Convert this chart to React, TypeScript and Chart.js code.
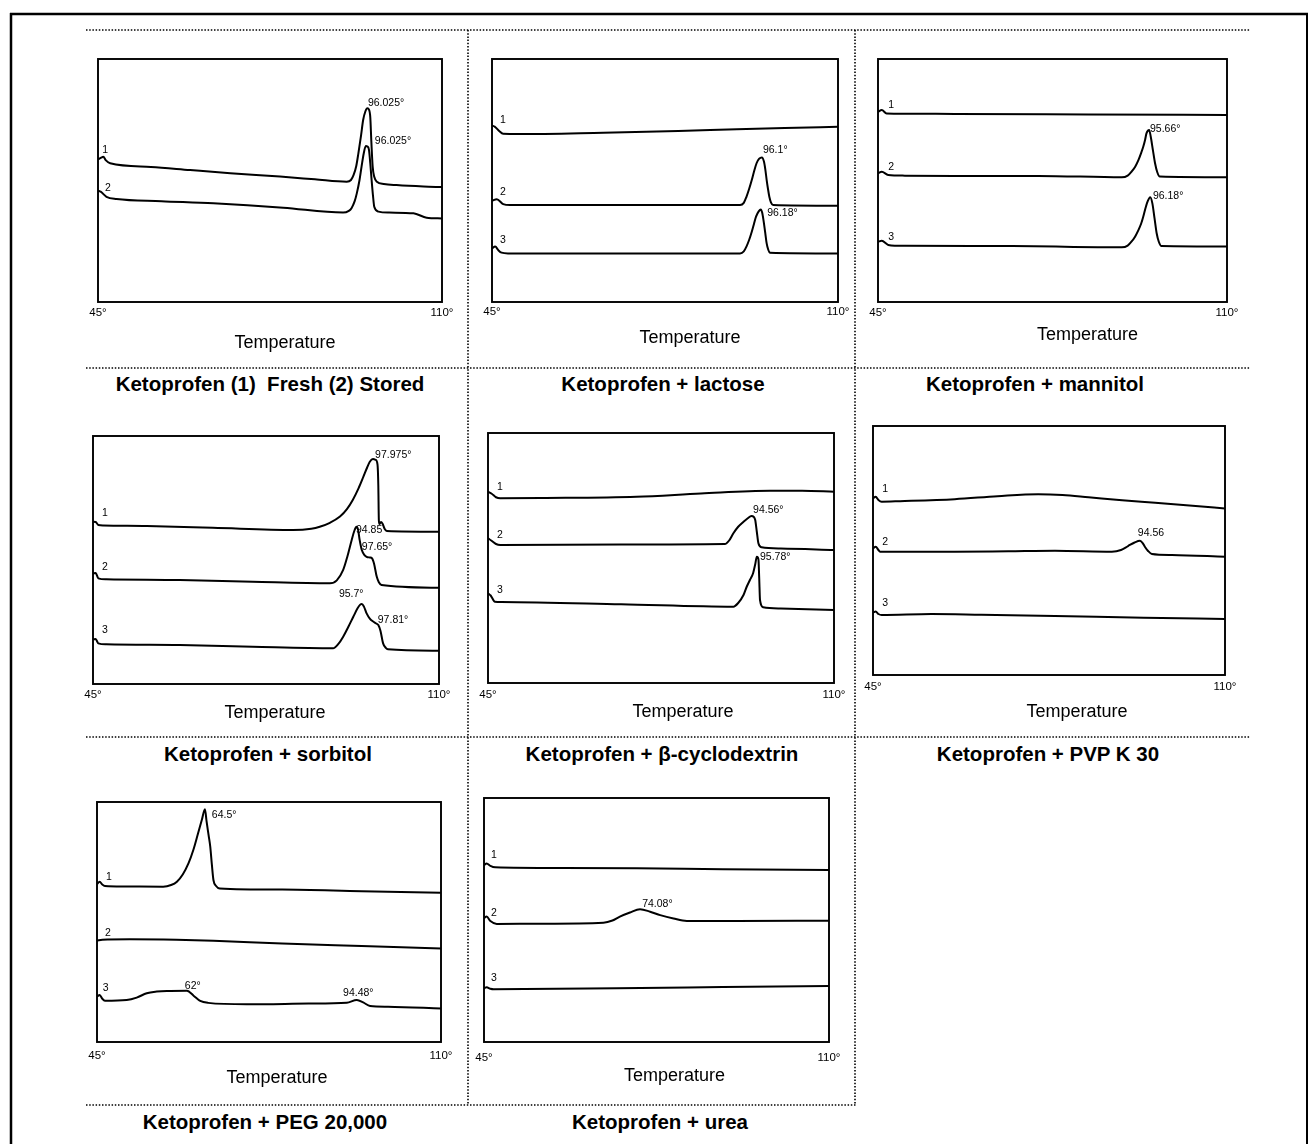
import React, { useEffect, useRef } from 'react';
import { Chart, registerables } from 'chart.js';

Chart.register(...registerables);

type Pt = [number, number];
type Ann = { text: string; t: number; v: number };

// ---------- axis ----------
const tempMin = 45;
const tempMax = 110;
const tickTemps = [45, 110];
const axisTitle = 'Temperature';
const curveNames = ['1', '2', '3'];

// ---------- Ketoprofen (1) fresh, (2) stored ----------
const freshCurve: Pt[] = [[45,58.7],[45.6,59.4],[46,59.8],[46.5,58.3],[47.3,57.1],[55,55.6],[62.4,54.3],[70,53],[79.4,51.6],[86,50.5],[92,49.5],[92.8,50.2],[93.3,52.3],[93.8,56],[94.2,61.2],[94.7,68.5],[95.1,74.9],[95.5,78.3],[95.9,79.7],[96.2,79.2],[96.45,76],[96.65,66],[96.9,55.7],[97.2,51.5],[97.7,49.5],[99,48.6],[101.4,48.1],[106.5,47.5],[110,47.3]];
const storedCurve: Pt[] = [[45,45.8],[45.5,45.4],[46.6,43.3],[48.5,42.4],[57,41.5],[66.8,40.6],[80,38.8],[91.3,36.8],[92.4,37.5],[92.9,38.6],[93.5,41.5],[93.9,44.7],[94.4,50],[94.8,55.7],[95.2,61],[95.6,64.2],[95.9,64],[96.2,62.6],[96.45,57],[96.7,50.2],[96.95,44],[97.2,39.2],[98,37.2],[100,36.8],[104.6,36.5],[107.1,34.7],[110,34.4]];
const freshLabels: Ann[] = [{text:'1',t:45.8,v:62.6},{text:'2',t:46.3,v:46.9}];
const freshPeaks: Ann[] = [{text:'96.025°',t:96.0,v:81.9},{text:'96.025°',t:97.3,v:66.3}];

// ---------- lactose ----------
const lactose1: Pt[] = [[45,72.6],[45.5,72.2],[46.3,70.5],[47.1,69.2],[50,69.1],[65.9,69.7],[80,70.4],[91,71.1],[100,71.6],[110,72.1]];
const lactose2: Pt[] = [[45,41.7],[45.9,42.3],[47.1,40.3],[48.4,39.9],[70,39.9],[91.6,39.9],[92.3,40.8],[92.8,43.3],[93.3,46.5],[93.8,50.2],[94.2,53.5],[94.7,57.1],[95.2,59],[95.7,59.5],[96.1,57.7],[96.35,54.5],[96.6,50.2],[96.85,46.5],[97.1,43.3],[97.4,41],[97.8,39.9],[110,39.6]];
const lactose3: Pt[] = [[45,22.1],[45.6,22.8],[46.2,21.3],[46.8,20.3],[48,20],[70,20],[91.6,20],[92.3,20.8],[92.8,22.8],[93.3,25.5],[93.8,28.9],[94.2,32],[94.6,35.1],[95.1,37.3],[95.5,38.1],[95.75,36.8],[96.0,33.7],[96.3,29],[96.6,24.1],[96.9,21.5],[97.2,20.3],[110,20]];
const lactoseLabels: Ann[] = [{text:'1',t:46.5,v:74.9},{text:'2',t:46.5,v:45.3},{text:'3',t:46.5,v:25.5}];
const lactosePeaks: Ann[] = [{text:'96.1°',t:95.9,v:62.6},{text:'96.18°',t:96.7,v:36.6}];

// ---------- mannitol ----------
const mannitol1: Pt[] = [[45,78.3],[45.7,79],[46.6,77.6],[50,77.5],[59.3,77.4],[84.2,77.2],[110,77]];
const mannitol2: Pt[] = [[45,53],[45.7,53.6],[46.9,52.3],[50,52],[59.3,51.9],[74.9,51.9],[90.4,51.3],[91.5,52],[92.2,53.6],[92.9,55.7],[93.5,58.4],[94.0,61.3],[94.4,63.9],[94.75,66.8],[95.0,69.4],[95.5,70.8],[95.8,68],[96.2,62.5],[96.6,57.1],[97.0,53.5],[97.5,51.6],[110,51.3]];
const mannitol3: Pt[] = [[45,24.8],[45.7,25.2],[46.9,23.5],[50,23.1],[70,23],[90.4,22.5],[91.5,23.2],[92.2,24.8],[92.9,27],[93.5,29.6],[94.0,32.2],[94.4,35.1],[94.8,38.5],[95.2,41.3],[95.7,43.1],[96.1,40.6],[96.5,34.5],[96.9,28.3],[97.3,24.8],[97.8,23],[110,22.8]];
const mannitolLabels: Ann[] = [{text:'1',t:46.9,v:81.1},{text:'2',t:46.9,v:55.6},{text:'3',t:46.9,v:26.7}];
const mannitolPeaks: Ann[] = [{text:'95.66°',t:95.66,v:71.2},{text:'96.18°',t:96.2,v:43.6}];

// ---------- sorbitol ----------
const sorbitol1: Pt[] = [[45,65.4],[45.5,65.3],[46,64.1],[47,63.9],[55.1,63.7],[67.5,63.0],[82.6,62.1],[86,62.6],[87.6,63.4],[89.5,65],[91.4,67.5],[92.7,70.5],[93.8,74.2],[94.9,79],[95.8,83.6],[96.5,87.3],[97.0,89.6],[97.6,90.7],[98.1,90.4],[98.45,88.5],[98.6,80],[98.7,66],[98.8,64.5],[99.1,65.3],[99.4,64.6],[99.8,62.5],[100.2,61.7],[110,61.4]];
const sorbitol2: Pt[] = [[45,44.6],[45.5,44.8],[46,42.6],[47.5,42.2],[61.3,41.9],[75,41.2],[89.5,40.6],[90.8,41.8],[92.0,46.0],[92.8,51.5],[93.6,58.1],[94.1,61.8],[94.5,63.4],[94.8,62.2],[95.1,58],[95.5,54.0],[96.0,52.0],[96.4,51.3],[97.0,51.0],[97.4,50.7],[97.8,48.5],[98.3,43.3],[98.7,41],[99.2,39.9],[110,38.8]];
const sorbitol3: Pt[] = [[45,18.0],[45.5,18.1],[46,16.4],[47.5,16.0],[61.3,15.7],[75,15.0],[90.1,14.4],[91.1,16.2],[92.0,19.1],[93.0,23.2],[93.9,27.1],[94.7,30.5],[95.2,32.0],[95.5,32.3],[95.9,31.2],[96.4,28.5],[97.0,26.4],[97.7,25.1],[98.2,24.4],[98.6,23.8],[99.0,21.5],[99.5,16.4],[100.0,14.6],[100.4,14.0],[110,13.4]];
const sorbitolLabels: Ann[] = [{text:'1',t:46.7,v:69.0},{text:'2',t:46.7,v:47.2},{text:'3',t:46.7,v:21.8}];
const sorbitolPeaks: Ann[] = [{text:'97.975°',t:98.0,v:92.3},{text:'94.85',t:94.4,v:62.1},{text:'97.65°',t:95.5,v:55.2},{text:'95.7°',t:91.2,v:36.3},{text:'97.81°',t:98.5,v:25.8}];

// ---------- beta-cyclodextrin ----------
const cyclo1: Pt[] = [[45,76.5],[45.7,75.7],[46.5,74.3],[47.3,73.9],[55,74],[72.9,74.5],[85,75.8],[98,76.9],[104,76.9],[110,76.5]];
const cyclo2: Pt[] = [[45,57.9],[45.6,57.0],[46.5,55.6],[47.3,55.2],[70,55.4],[89.5,55.6],[90.3,57],[91.1,59.9],[92.0,62.5],[93.0,64.5],[93.8,65.9],[94.5,66.8],[94.9,66.5],[95.2,65.2],[95.5,60.5],[95.8,55.9],[96.4,54.3],[100,53.8],[110,53.2]];
const cyclo3: Pt[] = [[45,35.9],[45.5,35.0],[46.3,32.5],[47.5,32.4],[70,31.5],[91.1,30.5],[92.0,32.0],[93.0,35.2],[93.6,38.5],[94.2,41.2],[94.8,43.9],[95.2,47.5],[95.5,50.5],[95.8,49.5],[95.95,42],[96.1,33.2],[96.7,30.3],[100,29.8],[110,29.2]];
const cycloLabels: Ann[] = [{text:'1',t:46.7,v:78.4},{text:'2',t:46.7,v:59.2},{text:'3',t:46.7,v:37.2}];
const cycloPeaks: Ann[] = [{text:'94.56°',t:94.8,v:69.2},{text:'95.78°',t:96.1,v:50.4}];

// ---------- PVP K 30 ----------
const pvp1: Pt[] = [[45,71.0],[45.5,71.6],[46.0,70.3],[46.6,69.6],[50,69.8],[60.1,70.6],[68,71.8],[75.5,72.6],[80,72.3],[84.8,71.4],[91,70.2],[97.1,69.2],[104,68],[110,66.9]];
const pvp2: Pt[] = [[45,50.8],[45.5,51.5],[46.0,50.2],[46.3,49.5],[60.1,49.5],[70,49.7],[78.6,49.9],[89.1,49.5],[90.8,50.2],[92.1,51.8],[93.3,53.2],[94.3,53.9],[94.8,53.0],[95.2,51.5],[95.8,49.8],[96.5,48.6],[100.2,48.2],[110,47.5]];
const pvp3: Pt[] = [[45,25.0],[45.5,25.5],[46.0,24.5],[46.6,24.1],[55.8,24.5],[65,24.2],[78.6,23.7],[95,23.0],[110,22.5]];
const pvpLabels: Ann[] = [{text:'1',t:46.7,v:74.7},{text:'2',t:46.7,v:53.4},{text:'3',t:46.7,v:28.9}];
const pvpPeaks: Ann[] = [{text:'94.56',t:93.9,v:57.0}];

// ---------- PEG 20,000 ----------
const peg1: Pt[] = [[45,65.8],[45.5,66.8],[46.0,65.6],[46.5,65.0],[50,64.8],[57.5,64.7],[59,65.4],[60.1,66.8],[61.2,69.8],[62.3,74.5],[63.2,80],[64.1,87.0],[64.8,92.5],[65.4,97.0],[65.7,92],[66.1,86],[66.4,81.4],[66.7,74],[67.0,67.5],[67.5,65],[68.2,64.0],[80,63.5],[95,62.8],[110,62.2]];
const peg2: Pt[] = [[45,42.2],[46,42.6],[51.2,42.8],[60,42.6],[67,42.2],[80,41.0],[95,40.0],[110,39.0]];
const peg3: Pt[] = [[45,18.9],[45.5,19.6],[46.0,18.0],[46.5,17.2],[50.6,17.5],[52.5,18.5],[54.4,20.3],[56.3,21.0],[58.2,21.3],[62.0,21.4],[63.3,19.2],[64.5,17.1],[66,16.3],[73.3,15.7],[85,16.0],[92.2,16.4],[94.1,17.5],[95.3,16.5],[96.6,15.0],[100,14.7],[110,14.0]];
const pegLabels: Ann[] = [{text:'1',t:46.7,v:68.75},{text:'2',t:46.5,v:45.4},{text:'3',t:46.1,v:22.5}];
const pegPeaks: Ann[] = [{text:'64.5°',t:66.7,v:94.6},{text:'62°',t:61.6,v:23.3},{text:'94.48°',t:91.5,v:20.4}];

// ---------- urea ----------
const urea1: Pt[] = [[45,72.5],[45.5,73.2],[46.2,72.2],[47.1,71.6],[60,71.3],[73.8,71.2],[90,70.8],[110,70.5]];
const urea2: Pt[] = [[45,50.7],[45.5,51.4],[46.2,49.6],[47.4,48.4],[55,48.5],[67.5,48.9],[69.2,49.8],[70.6,51.4],[72.5,53.1],[74.4,54.4],[76.3,53.4],[78.2,52.0],[80.7,50.6],[83.2,49.6],[92.6,49.6],[110,49.7]];
const urea3: Pt[] = [[45,22.0],[45.5,22.4],[46.2,21.8],[46.8,21.6],[70,22.0],[90,22.5],[110,23.0]];
const ureaLabels: Ann[] = [{text:'1',t:46.3,v:76.6},{text:'2',t:46.3,v:52.9},{text:'3',t:46.3,v:26.2}];
const ureaPeaks: Ann[] = [{text:'74.08°',t:74.8,v:56.6}];

// ---------- panel titles ----------
const panelTitles = [
  'Ketoprofen (1)  Fresh (2) Stored',
  'Ketoprofen + lactose',
  'Ketoprofen + mannitol',
  'Ketoprofen + sorbitol',
  'Ketoprofen + \u03b2-cyclodextrin',
  'Ketoprofen + PVP K 30',
  'Ketoprofen + PEG 20,000',
  'Ketoprofen + urea',
];

const panelCurves: Pt[][][] = [
  [freshCurve, storedCurve],
  [lactose1, lactose2, lactose3],
  [mannitol1, mannitol2, mannitol3],
  [sorbitol1, sorbitol2, sorbitol3],
  [cyclo1, cyclo2, cyclo3],
  [pvp1, pvp2, pvp3],
  [peg1, peg2, peg3],
  [urea1, urea2, urea3],
];
const panelNumLabels: Ann[][] = [freshLabels, lactoseLabels, mannitolLabels, sorbitolLabels, cycloLabels, pvpLabels, pegLabels, ureaLabels];
const panelPeakLabels: Ann[][] = [freshPeaks, lactosePeaks, mannitolPeaks, sorbitolPeaks, cycloPeaks, pvpPeaks, pegPeaks, ureaPeaks];

// ---------- layout (page pixels) ----------
const boxes = [
  { l: 98, t: 59, w: 344, h: 243, tdx: 15, tdy: 41, tg: 4 },
  { l: 492, t: 59, w: 346, h: 243, tdx: 25, tdy: 36, tg: 3 },
  { l: 878, t: 59, w: 349, h: 243, tdx: 35, tdy: 33, tg: 4 },
  { l: 93, t: 436, w: 346, h: 248, tdx: 9, tdy: 29, tg: 4 },
  { l: 488, t: 433, w: 346, h: 250, tdx: 22, tdy: 29, tg: 5 },
  { l: 873, t: 426, w: 352, h: 249, tdx: 28, tdy: 37, tg: 5 },
  { l: 97, t: 802, w: 344, h: 240, tdx: 8, tdy: 36, tg: 7 },
  { l: 484, t: 798, w: 345, h: 244, tdx: 18, tdy: 34, tg: 9 },
];
const titlePos = [
  [270, 384], [663, 384], [1035, 384],
  [268, 754], [662, 754], [1048, 754],
  [265, 1122], [660, 1122],
];

const PAD_L = 24;
const PAD_R = 32;
const PAD_T = 6;
const PAD_B = 58;
const FONT = '"Liberation Sans", Arial, Helvetica, sans-serif';

function DscPanel({ idx }: { idx: number }) {
  const ref = useRef<HTMLCanvasElement | null>(null);
  const b = boxes[idx];
  const cw = b.w + PAD_L + PAD_R;
  const ch = b.h + PAD_T + PAD_B;

  useEffect(() => {
    const canvas = ref.current;
    if (!canvas) return;
    const curves = panelCurves[idx];
    const nums = panelNumLabels[idx];
    const peaks = panelPeakLabels[idx];

    const framePlugin = {
      id: 'dscFrame' + idx,
      afterDraw(chart: any) {
        const { ctx, chartArea, scales } = chart;
        const xs = scales.x;
        const ys = scales.y;
        ctx.save();
        ctx.strokeStyle = '#000';
        ctx.lineWidth = 1.9;
        ctx.strokeRect(chartArea.left, chartArea.top, chartArea.right - chartArea.left, chartArea.bottom - chartArea.top);
        ctx.fillStyle = '#000';
        ctx.textBaseline = 'middle';
        ctx.textAlign = 'left';
        ctx.font = '10.5px ' + FONT;
        for (const a of nums) ctx.fillText(a.text, xs.getPixelForValue(a.t), ys.getPixelForValue(a.v));
        for (const a of peaks) ctx.fillText(a.text, xs.getPixelForValue(a.t), ys.getPixelForValue(a.v));
        ctx.font = '18px ' + FONT;
        ctx.textAlign = 'center';
        ctx.fillText(axisTitle, (chartArea.left + chartArea.right) / 2 + b.tdx, chartArea.bottom + b.tdy);
        ctx.restore();
      },
    };

    const chart = new Chart(canvas, {
      type: 'line',
      data: {
        datasets: curves.map((c, i) => ({
          label: curveNames[i],
          data: c.map(([x, y]) => ({ x, y })),
          borderColor: '#000',
          backgroundColor: '#000',
          borderWidth: 2,
          pointRadius: 0,
          fill: false,
          cubicInterpolationMode: 'monotone' as const,
        })),
      },
      options: {
        responsive: false,
        animation: false,
        events: [],
        layout: { padding: { left: PAD_L, right: PAD_R, top: PAD_T, bottom: 0 } },
        plugins: { legend: { display: false }, tooltip: { enabled: false }, title: { display: false } },
        scales: {
          x: {
            type: 'linear',
            min: tempMin,
            max: tempMax,
            grid: { display: false, drawTicks: false },
            border: { display: false },
            afterBuildTicks: (s: any) => { s.ticks = tickTemps.map((v) => ({ value: v })); },
            afterFit: (s: any) => { s.height = PAD_B; },
            ticks: {
              color: '#000',
              font: { family: FONT, size: 11.5 },
              padding: b.tg,
              maxRotation: 0,
              autoSkip: false,
              callback: (v: any) => v + '°',
            },
          },
          y: { display: false, min: 0, max: 100 },
        },
      },
      plugins: [framePlugin],
    } as any);
    return () => chart.destroy();
  }, [idx]);

  return (
    <canvas
      ref={ref}
      width={cw}
      height={ch}
      style={{ position: 'absolute', left: b.l - PAD_L, top: b.t - PAD_T, width: cw, height: ch }}
    />
  );
}

export default function App() {
  const dot = { stroke: '#000', strokeWidth: 1.6, strokeDasharray: '1.5 1.7' };
  return (
    <div style={{ position: 'absolute', left: 0, top: 0, width: 1309, height: 1144, background: '#fff', overflow: 'hidden' }}>
      <svg width={1309} height={1144} style={{ position: 'absolute', left: 0, top: 0 }}>
        <line x1={11} y1={13} x2={11} y2={1144} stroke="#000" strokeWidth={2.5} />
        <line x1={10} y1={14} x2={1308} y2={14} stroke="#000" strokeWidth={2.5} />
        <line x1={1307} y1={13} x2={1307} y2={1144} stroke="#000" strokeWidth={2} />
        <line x1={86} y1={30} x2={1250} y2={30} {...dot} />
        <line x1={86} y1={368} x2={1250} y2={368} {...dot} />
        <line x1={86} y1={737} x2={1250} y2={737} {...dot} />
        <line x1={86} y1={1105} x2={857} y2={1105} {...dot} />
        <line x1={468} y1={30} x2={468} y2={1105} {...dot} />
        <line x1={855} y1={30} x2={855} y2={1105} {...dot} />
      </svg>
      {boxes.map((_, i) => <DscPanel key={i} idx={i} />)}
      {panelTitles.map((t, i) => (
        <div
          key={'t' + i}
          style={{
            position: 'absolute',
            left: titlePos[i][0] - 250,
            top: titlePos[i][1] - 12,
            width: 500,
            textAlign: 'center',
            font: 'bold 20.5px ' + FONT,
            lineHeight: '24px',
            whiteSpace: 'pre',
            color: '#000',
          }}
        >
          {t}
        </div>
      ))}
    </div>
  );
}
